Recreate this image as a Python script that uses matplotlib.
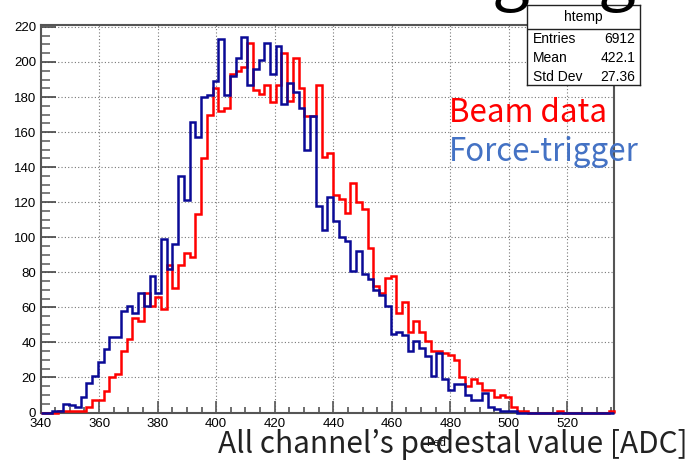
import numpy as np
import matplotlib
matplotlib.use("Agg")
import matplotlib.pyplot as plt
from matplotlib.ticker import MultipleLocator

# htemp: 100 bins from 340 to 536
x_lo, x_hi, n_bins = 340, 536, 100

beam = [0, 0, 0, 1, 1, 1, 1, 1, 3, 7,
        7, 12, 20, 22, 35, 42, 54, 52, 68, 61,
        66, 59, 84, 71, 84, 91, 89, 113, 145, 170,
        185, 172, 174, 193, 195, 197, 211, 184, 182, 187,
        177, 187, 205, 178, 202, 185, 169, 169, 187, 146,
        148, 124, 122, 114, 131, 120, 116, 94, 72, 68,
        77, 78, 57, 63, 46, 52, 46, 41, 35, 35,
        34, 33, 30, 20, 15, 19, 17, 13, 13, 9,
        10, 9, 3, 1, 1, 0, 0, 0, 0, 0,
        1, 0, 0, 0, 0, 0, 0, 0, 0, 1]

force = [0, 0, 1, 1, 5, 4, 3, 9, 17, 21,
         29, 36, 43, 43, 58, 61, 57, 68, 61, 78,
         68, 99, 82, 96, 135, 121, 166, 157, 180, 181,
         189, 213, 181, 192, 202, 214, 187, 196, 201, 211,
         193, 209, 176, 188, 183, 174, 150, 169, 118, 104,
         123, 109, 100, 98, 81, 92, 79, 76, 70, 67,
         61, 45, 46, 44, 35, 41, 37, 32, 21, 34,
         19, 13, 16, 16, 10, 7, 7, 11, 3, 2,
         1, 1, 1, 0, 0, 0, 0, 0, 0, 0,
         0, 0, 0, 0, 0, 0, 0, 0, 0, 0]

stat_names = ["Entries", "Mean", "Std Dev"]
stat_values = ["6912", "422.1", "27.36"]

W, H = 689, 463
fig = plt.figure(figsize=(W / 100, H / 100), dpi=100)
fig.patch.set_facecolor("white")

root_font = ["Liberation Sans Narrow", "Liberation Sans", "DejaVu Sans"]
jp_font = ["Noto Sans CJK JP", "DejaVu Sans"]

# frame in pixels: left 40.5, right 614.3, top 25, bottom 412.5
L, R, T, B = 40.5, 614.3, 25, 412.5
ax = fig.add_axes([L / W, 1 - B / H, (R - L) / W, (B - T) / H])

edges = np.linspace(x_lo, x_hi, n_bins + 1)
ax.stairs(beam, edges, color="#ff0000", lw=1.8, clip_on=False, zorder=3)
ax.stairs(force, edges, color="#0a0a96", lw=1.8, clip_on=False, zorder=4)

ax.set_xlim(x_lo, x_hi)
ax.set_ylim(0, 221.1)

ax.xaxis.set_major_locator(MultipleLocator(20))
ax.xaxis.set_minor_locator(MultipleLocator(5))
ax.yaxis.set_major_locator(MultipleLocator(20))
ax.yaxis.set_minor_locator(MultipleLocator(5))
ax.tick_params(axis="x", which="major", direction="in", length=8.5, width=1.2,
               color="#555555", pad=4, labelsize=9.5)
ax.tick_params(axis="x", which="minor", direction="in", length=4.5, width=1.2,
               color="#555555")
ax.tick_params(axis="y", which="major", direction="in", length=11, width=1.2,
               color="#444444", pad=3, labelsize=9.5)
ax.tick_params(axis="y", which="minor", direction="in", length=6.5, width=1.2,
               color="#666666")
for lab in ax.get_xticklabels() + ax.get_yticklabels():
    lab.set_family(root_font)

ax.grid(True, which="major", color="#777777", lw=0.8, linestyle=(0, (1, 2)))
for s in ax.spines.values():
    s.set_color("#555555")
    s.set_linewidth(1.5)

ax.set_xlabel("Ped", family=root_font, fontsize=8, labelpad=9)
ax.xaxis.set_label_coords(0.69, -0.065)

# stats box
bx0, bx1, by0, by1 = 527, 640, 5, 85.3
box = fig.add_axes([bx0 / W, 1 - by1 / H, (bx1 - bx0) / W, (by1 - by0) / H])
box.set_xlim(0, 1)
box.set_ylim(0, 1)
box.set_xticks([])
box.set_yticks([])
for s in box.spines.values():
    s.set_color("#222222")
    s.set_linewidth(1.0)
hy = (by1 - 29.3) / (by1 - by0)
box.axhline(hy, color="#222222", lw=1.0)
box.text(0.5, (by1 - 17) / (by1 - by0), "htemp", ha="center", va="center",
         family=root_font, fontsize=10)
for name, val, py in zip(stat_names, stat_values, [38.5, 57.5, 77]):
    yy = (by1 - py) / (by1 - by0)
    box.text(0.05, yy, name, ha="left", va="center", family=root_font, fontsize=10)
    box.text(0.96, yy, val, ha="right", va="center", family=root_font, fontsize=10)

# overlaid slide annotations
fig.text(449 / W, 1 - 113 / H, "Beam data", color="#ff0000", family=jp_font,
         fontsize=22.5, ha="left", va="center")
fig.text(449 / W, 1 - 152 / H, "Force-trigger", color="#4472c4", family=jp_font,
         fontsize=22.5, ha="left", va="center")
fig.text(688 / W, 1 - 444 / H, "All channel\u2019s pedestal value [ADC]",
         color="#222222", family=jp_font, fontsize=21.5, ha="right", va="center")

# cut-off slide title above the plot
fig.text(492 / W, 1 + 4 / H, "g", color="black", family=jp_font, fontsize=48,
         ha="left", va="baseline")
fig.text(598 / W, 1 + 4 / H, "g", color="black", family=jp_font, fontsize=48,
         ha="left", va="baseline")

fig.savefig("out.png", dpi=100)
